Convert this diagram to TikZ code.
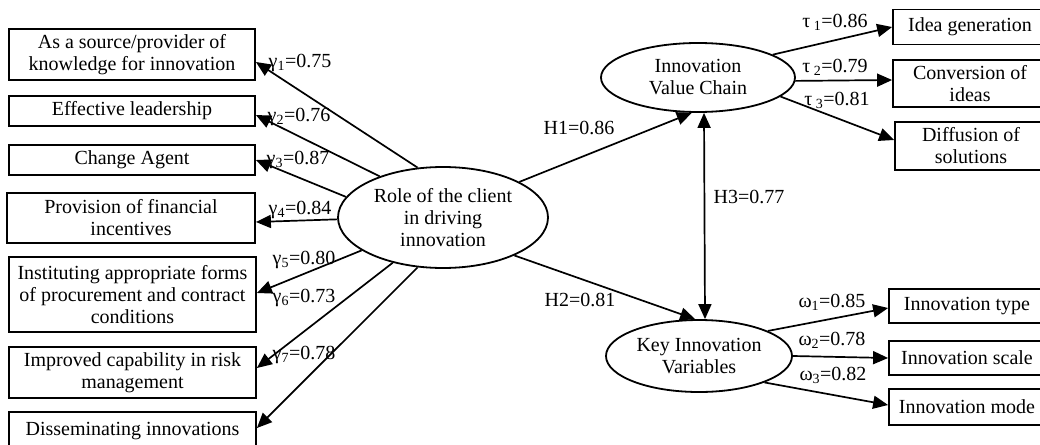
\documentclass[tikz,border=0pt]{standalone}
\usepackage{fontspec}
\setmainfont{Liberation Serif}
\usetikzlibrary{arrows.meta,shapes.geometric,calc}
\begin{document}
\begin{tikzpicture}[x=1pt,y=-1pt,
  every node/.style={font=\fontsize{20}{22}\selectfont},
  box/.style={draw, line width=1.8pt, inner sep=0pt, align=center},
  ell/.style={draw, ellipse, line width=1.8pt, inner sep=0pt, align=center},
  arr/.style={-{Triangle[length=15pt,width=13pt]}, line width=1.7pt},
  darr/.style={{Triangle[length=15pt,width=13pt]}-{Triangle[length=15pt,width=13pt]}, line width=1.7pt},
  lab/.style={inner sep=0pt}]
\path[use as bounding box, clip] (0,0) rectangle (1040,444);
% left boxes
\node[box, minimum width=246pt, minimum height=51pt] (b1) at (132,54.5) {As a source/provider of\\knowledge for innovation};
\node[box, minimum width=246pt, minimum height=30pt] (b2) at (132,111) {Effective leadership};
\node[box, minimum width=246pt, minimum height=30pt] (b3) at (132,160) {Change Agent};
\node[box, minimum width=248pt, minimum height=50pt] (b4) at (131,218) {Provision of financial\\incentives};
\node[box, minimum width=247pt, minimum height=75pt] (b5) at (132.5,294.5) {Instituting appropriate forms\\of procurement and contract\\conditions};
\node[box, minimum width=247pt, minimum height=51pt] (b6) at (132.5,372.5) {Improved capability in risk\\management};
\node[box, minimum width=247pt, minimum height=38pt] (b7) at (132.5,431) {Disseminating innovations};
% ellipses
\node[ell, minimum width=210pt, minimum height=101pt] (role) at (443,217.5) {Role of the client\\in driving\\innovation};
\node[ell, minimum width=194pt, minimum height=69pt] (ivc) at (698,77.5) {Innovation\\Value Chain};
\node[ell, minimum width=186pt, minimum height=72pt] (kiv) at (699,356) {Key Innovation\\Variables};
% right boxes
\node[box, minimum width=154pt, minimum height=35pt] (r1) at (970,27) {Idea generation};
\node[box, minimum width=154pt, minimum height=47pt] (r2) at (970,83.5) {Conversion of\\ideas};
\node[box, minimum width=152pt, minimum height=48pt] (r3) at (971,146) {Diffusion of\\solutions};
\node[box, minimum width=156pt, minimum height=34pt] (r4) at (967,306) {Innovation type};
\node[box, minimum width=156pt, minimum height=34pt] (r5) at (967,358) {Innovation scale};
\node[box, minimum width=156pt, minimum height=36pt] (r6) at (967,407) {Innovation mode};
% left arrows
\draw[arr] (role.117) -- ([yshift=-7.5pt]b1.east);
\draw[arr] (role.147) -- ([yshift=-4pt]b2.east);
\draw[arr] (role.168) -- (b3.east);
\draw[arr] (role.181) -- ([yshift=-4pt]b4.east);
\draw[arr] (role.202) -- ([yshift=1.5pt]b5.east);
\draw[arr] (role.222) -- ([yshift=4.5pt]b6.east);
\draw[arr] (role.243) -- ([yshift=3pt]b7.east);
% structural arrows
\draw[arr] (role.25) -- (ivc.260);
\draw[arr] (role.-28) -- (kiv.96);
\draw[darr] ([xshift=6pt]ivc.south) -- ([xshift=6pt]kiv.north);
% right arrows
\draw[arr] (ivc.17.5) -- (r1.west);
\draw[arr] (ivc.-2) -- ([yshift=3.5pt]r2.west);
\draw[arr] (ivc.-13.5) -- ([yshift=6pt]r3.west);
\draw[arr] (kiv.20) -- ([yshift=-2pt]r4.west);
\draw[arr] (kiv.east) -- (r5.west);
\draw[arr] (kiv.-22) -- ([yshift=2pt]r6.west);
% labels
\node[lab] (g1) at (300,63) {γ\textsubscript{1}=0.75};
\node[lab] (g2) at (299,117) {γ\textsubscript{2}=0.76};
\node[lab] (g3) at (298,160) {γ\textsubscript{3}=0.87};
\node[lab] (g4) at (300,210) {γ\textsubscript{4}=0.84};
\node[lab] (g5) at (304,260) {γ\textsubscript{5}=0.80};
\node[lab] (g6) at (304,298) {γ\textsubscript{6}=0.73};
\node[lab] (g7) at (304,355) {γ\textsubscript{7}=0.78};
\node[lab] (h1) at (579,128) {H1=0.86};
\node[lab] (h2) at (580,300) {H2=0.81};
\node[lab] (h3) at (749,197) {H3=0.77};
\node[lab] (t1) at (835,22) {τ\,\textsubscript{1}=0.86};
\node[lab] (t2) at (835,67) {τ\,\textsubscript{2}=0.79};
\node[lab] (t3) at (837,100) {τ\,\textsubscript{3}=0.81};
\node[lab] (w1) at (832,302) {ω\textsubscript{1}=0.85};
\node[lab] (w2) at (832,340) {ω\textsubscript{2}=0.78};
\node[lab] (w3) at (833,375) {ω\textsubscript{3}=0.82};
\end{tikzpicture}
\end{document}
